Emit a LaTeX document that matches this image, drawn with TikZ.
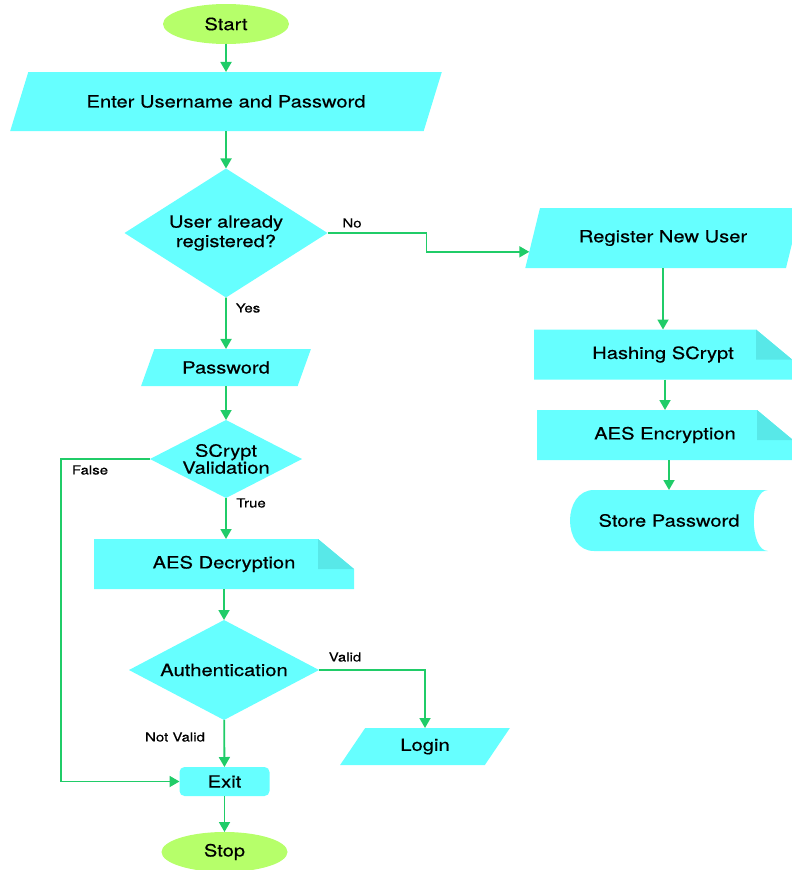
\documentclass[tikz,border=0pt]{standalone}
\usepackage{fontspec}
\setmainfont{TeX Gyre Heros}[FakeStretch=1.2, FakeBold=0.4]
\usepackage{tikz}
\usetikzlibrary{calc, shapes.geometric}
\usetikzlibrary{arrows.meta}
\tikzset{>={Triangle[width=11pt,length=10pt]}}
\definecolor{boxCyan}{RGB}{102, 255, 255}
\definecolor{foldCyan}{RGB}{88, 232, 232}
\definecolor{flowGreen}{RGB}{32, 204, 104}
\definecolor{termGreen}{RGB}{182, 255, 106}
\newcommand{\ppbb}{path picture bounding box}

\begin{document}
\begin{tikzpicture}[
    x=1pt, y=-1pt,
    every node/.style = {inner sep=0pt, outer sep=0pt, align=center,
        font=\fontsize{16.8}{19.5}\selectfont},
    term/.style = {ellipse, fill=termGreen, minimum width=126, minimum height=40},
    io/.style = {trapezium, fill=boxCyan, trapezium stretches=true},
    decision/.style = {diamond, fill=boxCyan},
    docbox/.style = {rectangle, minimum width=#1, minimum height=50,
        path picture={
          \fill[boxCyan] (\ppbb.south west) -- (\ppbb.north west)
            -- ([xshift=-36]\ppbb.north east) -- ([yshift=-30]\ppbb.north east)
            -- (\ppbb.south east) -- cycle;
          \fill[foldCyan] ([xshift=-36]\ppbb.north east)
            -- ([xshift=-36,yshift=-30]\ppbb.north east)
            -- ([yshift=-30]\ppbb.north east) -- cycle;
        }},
    storebox/.style = {rectangle, minimum width=198, minimum height=61,
        path picture={
          \fill[boxCyan] ([xshift=24]\ppbb.north west) -- (\ppbb.north east)
            .. controls ([xshift=-19]\ppbb.north east) and ([xshift=-19]\ppbb.south east) .. (\ppbb.south east)
            -- ([xshift=24]\ppbb.south west)
            .. controls ([xshift=-8]\ppbb.south west) and ([xshift=-8]\ppbb.north west) .. ([xshift=24]\ppbb.north west)
            -- cycle;
        }},
    flow/.style = {->, flowGreen, line width=1.8pt},
    lbl/.style = {font=\fontsize{12.5}{14}\selectfont}
  ]
  \useasboundingbox (0,0) rectangle (792,870);

  % left column
  \node[term] (start) at (226,24) {Start};
  \node[io, trapezium left angle=44.5, trapezium right angle=135.5,
        minimum width=432, minimum height=59] (enter) at (226,101.5) {Enter Username and Password};
  \node[decision, aspect=1.57, minimum width=203, minimum height=129] (ureg) at (226,233) {User already\\registered?};
  \node[io, trapezium left angle=57, trapezium right angle=123,
        minimum width=170, minimum height=37] (pwd) at (226,367.5) {Password};
  \node[decision, aspect=1.95, minimum width=152, minimum height=78,
        font=\fontsize{16.8}{17}\selectfont] (scv) at (226,459) {SCrypt\\Validation};
  \node[docbox=260] (aesdec) at (224,564) {AES Decryption};
  \node[decision, aspect=1.9, minimum width=190, minimum height=100] (auth) at (224,670) {Authentication};
  \node[io, trapezium left angle=57, trapezium right angle=123,
        minimum width=171, minimum height=37] (login) at (425,746.5) {Login};
  \node[rectangle, rounded corners=5pt, fill=boxCyan,
        minimum width=90, minimum height=29] (exitbox) at (224.5,781.5) {Exit};
  \node[term] (stop) at (224.5,852) {Stop};

  % right column
  \node[io, trapezium left angle=57.7, trapezium right angle=122.3,
        minimum width=276, minimum height=60] (reg) at (663,238) {Register New User};
  \node[docbox=258] (hash) at (663,354.5) {Hashing SCrypt};
  \node[docbox=256] (aesenc) at (665,435) {AES Encryption};
  \node[storebox] (store) at (669,520.5) {Store Password};

  \coordinate (regin) at ($(reg.bottom left corner)!0.27!(reg.top left corner)$);

  \draw[flow] (start) -- (enter);
  \draw[flow] (enter) -- (ureg);
  \draw[flow] (ureg) -- (pwd);
  \draw[flow] (ureg.east) -- ++(99,0) |- (regin);
  \draw[flow] (pwd) -- (scv);
  \draw[flow] (scv.south) -- (scv.south |- aesdec.north);
  \draw[flow] (scv.west) -- ++(-89,0) |- (exitbox.west);
  \draw[flow] (aesdec.south) -- (aesdec.south |- auth.north);
  \draw[flow] (auth.east) -| (login.north);
  \draw[flow] (auth) -- (exitbox);
  \draw[flow] (exitbox) -- (stop);
  \draw[flow] (reg) -- (hash);
  \draw[flow] (hash.south -| aesenc.north) -- (aesenc.north);
  \draw[flow] (aesenc.south -| store.north) -- (store.north);

  \node[lbl] (no) at (352,223) {No};
  \node[lbl] (yes) at (248,308) {Yes};
  \node[lbl] (false) at (90,470) {False};
  \node[lbl] (true) at (251,503) {True};
  \node[lbl] (valid) at (345,657) {Valid};
  \node[lbl] (notvalid) at (175,737) {Not Valid};
\end{tikzpicture}
\end{document}
